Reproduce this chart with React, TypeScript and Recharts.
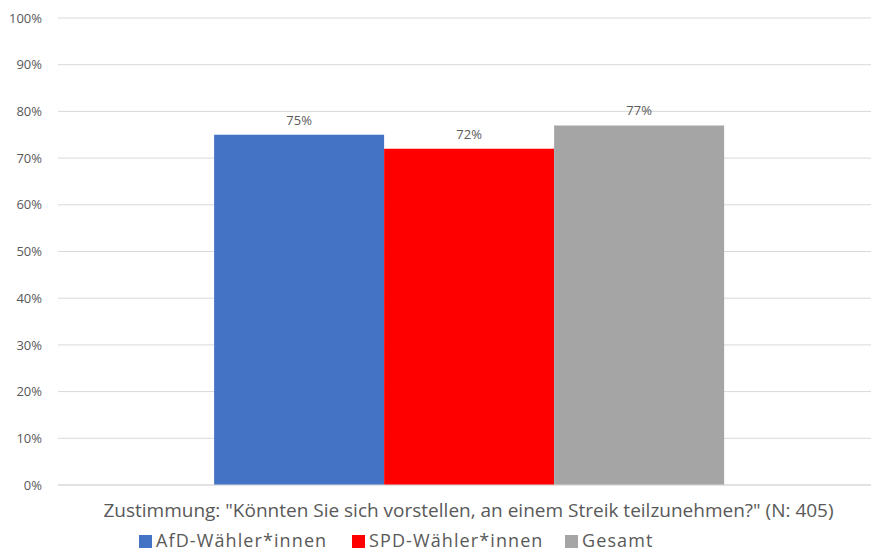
import React from 'react';
import { BarChart, Bar, XAxis, YAxis, CartesianGrid, Legend, LabelList } from 'recharts';

const categories = ['Zustimmung: "Könnten Sie sich vorstellen, an einem Streik teilzunehmen?" (N: 405)'];
const afdValues = [0.75];
const spdValues = [0.72];
const gesamtValues = [0.77];
const yTicks = [0, 0.1, 0.2, 0.3, 0.4, 0.5, 0.6, 0.7, 0.8, 0.9, 1];

const series = [
  { key: 'afd', name: 'AfD-Wähler*innen', color: '#4472c4' },
  { key: 'spd', name: 'SPD-Wähler*innen', color: '#ff0000' },
  { key: 'gesamt', name: 'Gesamt', color: '#a5a5a5' },
];

const data = categories.map((name, i) => ({
  name,
  afd: afdValues[i],
  spd: spdValues[i],
  gesamt: gesamtValues[i],
}));

const FONT = '"Open Sans", sans-serif';
const TEXT = '#595959';
const pct = (v: number) => `${Math.round(v * 100)}%`;

function LegendBox() {
  return (
    <div style={{ display: 'flex', paddingLeft: 139, paddingTop: 3, fontFamily: FONT, fontSize: 18, letterSpacing: 1.1, color: TEXT, lineHeight: '20px' }}>
      {series.map((s) => (
        <div key={s.key} style={{ display: 'flex', alignItems: 'center', width: 213 }}>
          <span style={{ width: 13, height: 13, background: s.color, display: 'inline-block', marginRight: 4, marginTop: 2, flexShrink: 0 }} />
          <span>{s.name}</span>
        </div>
      ))}
    </div>
  );
}

export default function App() {
  return (
    <div style={{ position: 'absolute', left: 0, top: 0, width: 871, height: 554, background: '#fff', fontFamily: FONT }}>
      <BarChart
        width={871}
        height={554}
        data={data}
        margin={{ top: 18, right: 0, left: 0, bottom: 0 }}
        barCategoryGap="18.4%"
        barGap={0}
      >
        <CartesianGrid vertical={false} stroke="#d9d9d9" />
        <XAxis
          dataKey="name"
          height={42}
          padding={{ left: 8, right: 0 }}
          tickLine={false}
          axisLine={{ stroke: '#d9d9d9' }}
          tick={{ fill: TEXT, fontSize: 19, fontFamily: FONT }}
          tickMargin={13}
        />
        <YAxis
          width={58}
          domain={[0, 1]}
          ticks={yTicks}
          tickFormatter={pct}
          axisLine={false}
          tickLine={false}
          tickSize={0}
          tickMargin={16}
          tick={{ fill: TEXT, fontSize: 13, fontFamily: FONT }}
        />
        <Legend verticalAlign="bottom" height={27} content={() => <LegendBox />} />
        {series.map((s) => (
          <Bar key={s.key} dataKey={s.key} name={s.name} fill={s.color} isAnimationActive={false}>
            <LabelList dataKey={s.key} position="top" formatter={(v: any) => pct(v)} fill={TEXT} fontSize={13} fontFamily={FONT} offset={10} />
          </Bar>
        ))}
      </BarChart>
    </div>
  );
}
